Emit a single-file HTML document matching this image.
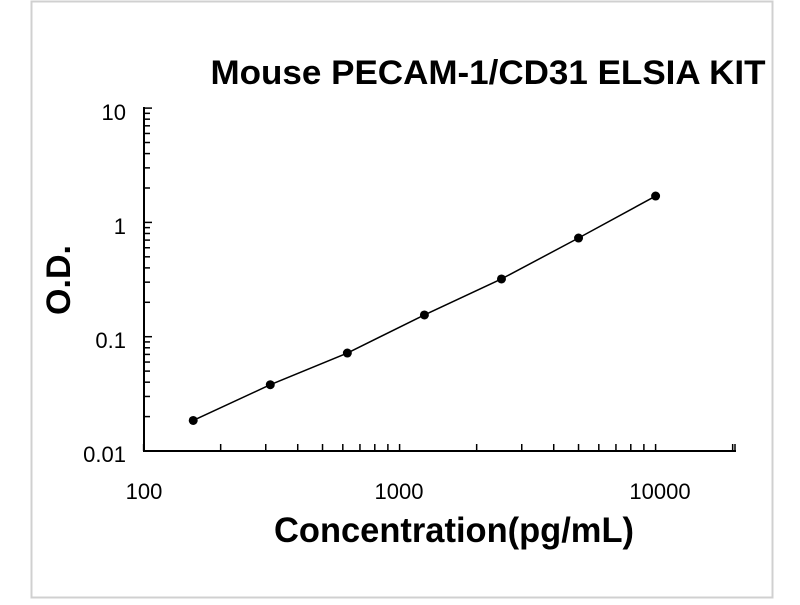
<!DOCTYPE html>
<html><head><style>
html,body{margin:0;padding:0;background:#fff;}
</style></head><body>
<svg width="800" height="600" xmlns="http://www.w3.org/2000/svg" font-family="'Liberation Sans', sans-serif">
<rect x="0" y="0" width="800" height="600" fill="#fff"/>
<rect x="31.5" y="1.5" width="741" height="596" fill="none" stroke="#d0d0d0" stroke-width="2"/>
<text x="488" y="84" font-size="34" font-weight="bold" text-anchor="middle" textLength="555" lengthAdjust="spacingAndGlyphs">Mouse PECAM-1/CD31 ELSIA KIT</text>
<g stroke="#000" stroke-width="2" fill="none">
<line x1="144" y1="107" x2="144" y2="452"/>
<line x1="143" y1="451" x2="736" y2="451"/>
</g>
<g stroke="#000" stroke-width="1.5" id="ticks"></g>
<g font-size="22" text-anchor="end">
<text x="126" y="120">10</text>
<text x="126" y="234">1</text>
<text x="126" y="348">0.1</text>
<text x="126" y="462">0.01</text>
</g>
<g font-size="22" text-anchor="middle">
<text x="144" y="499">100</text>
<text x="399" y="499">1000</text>
<text x="660" y="499">10000</text>
</g>
<text x="454" y="542" font-size="35" font-weight="bold" text-anchor="middle" textLength="360" lengthAdjust="spacingAndGlyphs">Concentration(pg/mL)</text>
<text transform="translate(70,280) rotate(-90)" font-size="34" font-weight="bold" text-anchor="middle">O.D.</text>
<polyline id="curve" fill="none" stroke="#000" stroke-width="1.5"/>
<g id="pts" fill="#000"></g>
</svg>
<script>
var X0=143.6,DX=256,Y0=451,DY=114.3;
function px(v){return X0+Math.log10(v/100)*DX;}
function py(v){return Y0-Math.log10(v/0.01)*DY;}
var t=document.getElementById('ticks'),s='';
for(var d=0;d<3;d++){for(var k=1;k<=9;k++){var v=0.01*Math.pow(10,d)*k;var y=py(v);var L=(k==1)?8:6;s+='<line x1="144" y1="'+y+'" x2="'+(144+L)+'" y2="'+y+'"/>';}}
s+='<line x1="144" y1="'+py(10)+'" x2="152" y2="'+py(10)+'"/>';
for(var d=0;d<3;d++){for(var k=1;k<=9;k++){var v=100*Math.pow(10,d)*k;var x=px(v);if(x>737)break;var L=7;s+='<line x1="'+x+'" y1="451" x2="'+x+'" y2="'+(451-L)+'"/>';}}
s+='<line x1="735" y1="451" x2="735" y2="444"/>';
t.innerHTML=s;
var xs=[156.25,312.5,625,1250,2500,5000,10000],ys=[0.0185,0.038,0.072,0.155,0.32,0.73,1.7];
var p='',c='';
for(var i=0;i<xs.length;i++){p+=px(xs[i])+','+py(ys[i])+' ';c+='<circle cx="'+px(xs[i])+'" cy="'+py(ys[i])+'" r="4.5"/>';}
document.getElementById('curve').setAttribute('points',p);
document.getElementById('pts').innerHTML=c;
</script>
</body></html>
